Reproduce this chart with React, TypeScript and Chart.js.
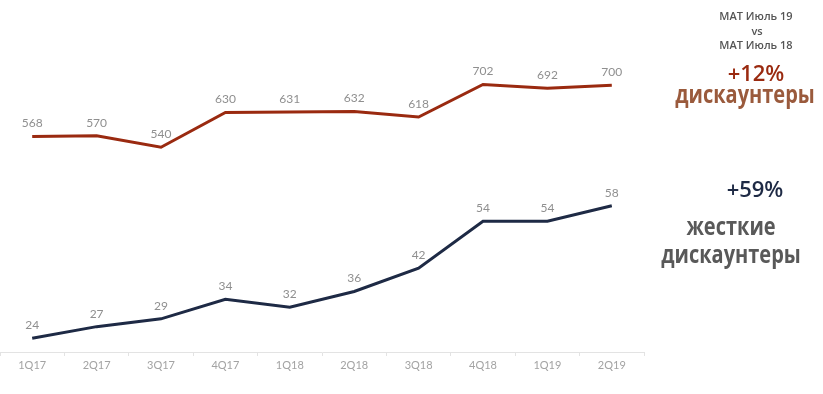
import React, { useEffect, useRef } from "react";
import { Chart, registerables } from "chart.js";

Chart.register(...registerables);

const categories = ["1Q17", "2Q17", "3Q17", "4Q17", "1Q18", "2Q18", "3Q18", "4Q18", "1Q19", "2Q19"];
const discounters = [568, 570, 540, 630, 631, 632, 618, 702, 692, 700];
const hardDiscounters = [24, 27, 29, 34, 32, 36, 42, 54, 54, 58];

const RED = "#9a2a10";
const NAVY = "#1e2a45";

const dataLabelPlugin = {
  id: "dataLabels",
  afterDatasetsDraw(chart: any) {
    const ctx = chart.ctx;
    ctx.save();
    ctx.font = "12px Lato";
    ctx.fillStyle = "#8f8f8f";
    ctx.textAlign = "center";
    ctx.textBaseline = "middle";
    chart.data.datasets.forEach((ds: any, di: number) => {
      const meta = chart.getDatasetMeta(di);
      meta.data.forEach((pt: any, i: number) => {
        ctx.fillText(String(ds.data[i]), pt.x, pt.y - 13);
      });
    });
    ctx.restore();
  },
};

const textBase: React.CSSProperties = {
  position: "absolute",
  whiteSpace: "nowrap",
  lineHeight: 1,
  transformOrigin: "center center",
};

export default function App() {
  const ref = useRef<HTMLCanvasElement | null>(null);

  useEffect(() => {
    if (!ref.current) return;
    const chart = new Chart(ref.current, {
      type: "line",
      data: {
        labels: categories,
        datasets: [
          {
            label: "дискаунтеры",
            data: discounters,
            borderColor: RED,
            backgroundColor: RED,
            borderWidth: 3,
            pointRadius: 0,
            tension: 0,
            yAxisID: "yRed",
          },
          {
            label: "жесткие дискаунтеры",
            data: hardDiscounters,
            borderColor: NAVY,
            backgroundColor: NAVY,
            borderWidth: 3,
            pointRadius: 0,
            tension: 0,
            yAxisID: "yNavy",
          },
        ],
      },
      options: {
        animation: false,
        responsive: false,
        maintainAspectRatio: false,
        layout: { padding: { top: 20, left: 0, right: 179, bottom: 20 } },
        plugins: { legend: { display: false }, tooltip: { enabled: false } },
        scales: {
          x: {
            offset: true,
            grid: {
              offset: true,
              drawOnChartArea: false,
              tickLength: 4,
              color: "#e3e3e3",
            },
            border: { color: "#e3e3e3", width: 1 },
            ticks: { color: "#a3a3a3", font: { family: "Lato", size: 11 }, padding: 3 },
            afterFit: (s: any) => {
              s.height = 22;
            },
          },
          yRed: { display: false, min: 12.4, max: 868.1 },
          yNavy: { display: false, min: 20.5, max: 105.6 },
        },
      },
      plugins: [dataLabelPlugin],
    });
    return () => chart.destroy();
  }, []);

  return (
    <div style={{ position: "fixed", left: 0, top: 0, width: 823, height: 394, background: "#fff" }}>
      <canvas ref={ref} width={823} height={394} style={{ position: "absolute", left: 0, top: 0 }} />
      <div style={{ ...textBase, left: 756, top: 15, transform: "translate(-50%,-50%)", font: "600 11px 'Open Sans'", color: "#555" }}>MAT Июль 19</div>
      <div style={{ ...textBase, left: 757, top: 30, transform: "translate(-50%,-50%)", font: "600 11px 'Open Sans'", color: "#555" }}>vs</div>
      <div style={{ ...textBase, left: 756, top: 44, transform: "translate(-50%,-50%)", font: "600 11px 'Open Sans'", color: "#555" }}>MAT Июль 18</div>
      <div style={{ ...textBase, left: 756, top: 72, transform: "translate(-50%,-50%)", font: "600 22px 'Open Sans'", color: RED }}>+12%</div>
      <div style={{ ...textBase, left: 745, top: 93, transform: "translate(-50%,-50%) scaleY(1.28)", font: "700 20px 'Open Sans'", color: "#9a5a3c" }}>дискаунтеры</div>
      <div style={{ ...textBase, left: 755, top: 188, transform: "translate(-50%,-50%)", font: "600 22px 'Open Sans'", color: NAVY }}>+59%</div>
      <div style={{ ...textBase, left: 731, top: 225, transform: "translate(-50%,-50%) scaleY(1.28)", font: "700 20px 'Open Sans'", color: "#595959" }}>жесткие</div>
      <div style={{ ...textBase, left: 731, top: 253, transform: "translate(-50%,-50%) scaleY(1.28)", font: "700 20px 'Open Sans'", color: "#595959" }}>дискаунтеры</div>
    </div>
  );
}
